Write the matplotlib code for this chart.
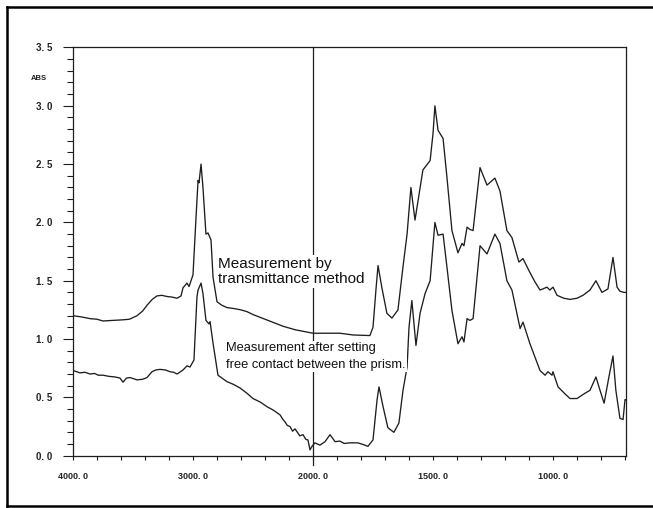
import numpy as np
import matplotlib
matplotlib.use("Agg")
import matplotlib.pyplot as plt
from matplotlib.ticker import FixedLocator, FuncFormatter
from matplotlib.lines import Line2D

# ========= DATA =========

# transmittance method (upper trace)
wn_trans = [4000, 3930, 3858, 3800, 3750, 3667, 3583, 3530, 3467, 3420, 3383, 3340,
            3300, 3260, 3217, 3175, 3133, 3100, 3083, 3050, 3033, 3000, 2975, 2958,
            2950, 2933, 2917, 2892, 2875, 2850, 2833, 2800, 2760, 2717, 2650, 2600,
            2550, 2500, 2400, 2300, 2250, 2150, 2050, 2000, 1929, 1888, 1833, 1763,
            1750, 1737, 1729, 1713, 1692, 1671, 1646, 1625, 1608, 1592, 1575, 1562,
            1542, 1512, 1500, 1492, 1479, 1458, 1442, 1421, 1396, 1379, 1371, 1358,
            1346, 1333, 1304, 1275, 1242, 1221, 1192, 1171, 1142, 1125, 1096, 1075,
            1054, 1025, 1013, 1000, 983, 955, 929, 900, 875, 846, 821, 796, 771, 750,
            733, 721, 704, 697]
abs_trans = [1.20, 1.19, 1.175, 1.17, 1.155, 1.16, 1.165, 1.17, 1.20, 1.24, 1.29, 1.34,
             1.37, 1.375, 1.365, 1.36, 1.35, 1.37, 1.44, 1.48, 1.45, 1.55, 2.04, 2.36,
             2.34, 2.50, 2.30, 1.90, 1.91, 1.85, 1.53, 1.32, 1.29, 1.27, 1.26, 1.25,
             1.235, 1.21, 1.17, 1.13, 1.11, 1.08, 1.06, 1.05, 1.05, 1.05, 1.035, 1.03,
             1.10, 1.44, 1.63, 1.44, 1.22, 1.18, 1.25, 1.62, 1.90, 2.30, 2.02, 2.19,
             2.45, 2.53, 2.76, 3.00, 2.79, 2.72, 2.39, 1.93, 1.74, 1.82, 1.80, 1.96,
             1.94, 1.93, 2.47, 2.32, 2.38, 2.27, 1.93, 1.87, 1.66, 1.69, 1.57, 1.49,
             1.42, 1.445, 1.42, 1.445, 1.375, 1.35, 1.34, 1.35, 1.375, 1.42, 1.50, 1.40,
             1.43, 1.70, 1.445, 1.41, 1.40, 1.40]

# after setting free contact with the prism (lower trace)
wn_prism = [4000, 3970, 3942, 3900, 3858, 3820, 3790, 3750, 3700, 3650, 3608, 3583,
            3555, 3525, 3467, 3420, 3383, 3342, 3310, 3275, 3230, 3192, 3160, 3133,
            3083, 3050, 3025, 2992, 2967, 2958, 2933, 2917, 2892, 2867, 2858, 2833,
            2792, 2717, 2660, 2608, 2550, 2500, 2440, 2383, 2330, 2275, 2250, 2233,
            2215, 2192, 2170, 2150, 2133, 2110, 2083, 2060, 2042, 2025, 2008, 1992,
            1971, 1950, 1929, 1908, 1888, 1870, 1846, 1813, 1790, 1771, 1750, 1733,
            1725, 1708, 1688, 1663, 1642, 1625, 1608, 1600, 1588, 1571, 1554, 1533,
            1512, 1492, 1479, 1458, 1442, 1421, 1396, 1379, 1371, 1358, 1346, 1333,
            1304, 1275, 1242, 1221, 1192, 1171, 1137, 1125, 1096, 1075, 1054, 1033,
            1021, 1004, 1000, 979, 950, 929, 900, 867, 846, 821, 804, 787, 767, 750,
            738, 721, 708, 700, 697]
abs_prism = [0.73, 0.72, 0.71, 0.715, 0.70, 0.705, 0.69, 0.69, 0.68, 0.675, 0.665, 0.63,
             0.665, 0.67, 0.65, 0.655, 0.67, 0.72, 0.735, 0.74, 0.735, 0.72, 0.715, 0.70,
             0.735, 0.77, 0.76, 0.82, 1.36, 1.42, 1.48, 1.39, 1.16, 1.13, 1.15, 0.965,
             0.69, 0.635, 0.61, 0.58, 0.535, 0.49, 0.46, 0.42, 0.39, 0.35, 0.31, 0.29,
             0.26, 0.25, 0.21, 0.23, 0.205, 0.17, 0.18, 0.14, 0.135, 0.05, 0.08, 0.11,
             0.09, 0.12, 0.18, 0.12, 0.125, 0.105, 0.11, 0.11, 0.095, 0.08, 0.135, 0.48,
             0.59, 0.42, 0.24, 0.20, 0.28, 0.56, 0.76, 1.10, 1.33, 0.945, 1.22, 1.39,
             1.50, 2.00, 1.89, 1.90, 1.62, 1.245, 0.96, 1.02, 0.975, 1.175, 1.16, 1.175,
             1.80, 1.73, 1.90, 1.82, 1.50, 1.42, 1.09, 1.145, 0.96, 0.845, 0.73, 0.69,
             0.72, 0.69, 0.72, 0.59, 0.53, 0.49, 0.49, 0.535, 0.56, 0.675, 0.56, 0.45,
             0.675, 0.855, 0.56, 0.32, 0.31, 0.48, 0.48]

y_ticks = [0.0, 0.5, 1.0, 1.5, 2.0, 2.5, 3.0, 3.5]
x_ticks = [4000, 3000, 2000, 1500, 1000]
x_minor = list(range(4000, 2000, -200)) + list(range(2000, 600, -100))

# ========= SCALE: 4000-2000 compressed by half =========
# increasing in wavenumber; the axis limits flip it so 4000 sits on the left

def fwd(w):
    w = np.asarray(w, dtype=float)
    return -np.where(w >= 2000, (4000 - w) / 2.0, 1000 + (2000 - w))

def inv(v):
    u = -np.asarray(v, dtype=float)
    return np.where(u <= 1000, 4000 - 2.0 * u, 3000 - u)

# ========= PLOT =========

fig = plt.figure(figsize=(6.53, 5.08), dpi=100)
ax = fig.add_axes([0.1118, 0.103, 0.8464, 0.8035])

ax.set_xscale("function", functions=(fwd, inv))
ax.set_xlim(4000, 697)
ax.set_ylim(0, 3.5)

lc = "#1e1e1e"
ax.plot(wn_trans, abs_trans, color=lc, lw=0.95)
ax.plot(wn_prism, abs_prism, color=lc, lw=0.95)
ax.axvline(2000, color=lc, lw=0.9, ymin=-0.022, ymax=1, clip_on=False)

ax.xaxis.set_major_locator(FixedLocator(x_ticks))
ax.xaxis.set_minor_locator(FixedLocator(x_minor))
ax.xaxis.set_major_formatter(FuncFormatter(lambda v, p: f"{int(round(v))}. 0"))
ax.yaxis.set_major_locator(FixedLocator(y_ticks))
ax.yaxis.set_minor_locator(FixedLocator(np.arange(0, 3.51, 0.1)))
ax.yaxis.set_major_formatter(FuncFormatter(lambda v, p: f"{v:.1f}".replace(".", ". ")))

for lab in ax.get_xticklabels():
    lab.set_fontfamily(["Liberation Sans"])
    lab.set_fontweight("bold")
    lab.set_fontsize(6.5)
    lab.set_color("#222222")
for lab in ax.get_yticklabels():
    lab.set_fontfamily(["Liberation Sans"])
    lab.set_fontweight("bold")
    lab.set_fontsize(7)
    lab.set_color("#222222")

ax.tick_params(axis="x", which="both", direction="out", length=3, width=0.8,
               color=lc, pad=9)
ax.tick_params(axis="y", which="major", direction="out", length=7, width=0.8,
               color=lc, pad=8)
ax.tick_params(axis="y", which="minor", direction="out", length=4, width=0.8, color=lc)
for s in ax.spines.values():
    s.set_linewidth(0.9)
    s.set_color(lc)

ax.text(-0.062, 3.23, "ABS", transform=ax.get_yaxis_transform(), ha="center",
        va="center", fontsize=5.5, fontweight="bold",
        family=["Liberation Sans"], color="#222222")

# annotations (white box hides the 2000 line behind them)
box = dict(facecolor="white", edgecolor="none", pad=1)
ax.text(0.2624, 0.4224, "Measurement by\ntransmittance method", transform=ax.transAxes,
        ha="left", va="baseline", fontsize=11, linespacing=1.15,
        family=["Liberation Sans"], color="#111111", bbox=box)
ax.text(0.2768, 0.2148, "Measurement after setting\nfree contact between the prism.",
        transform=ax.transAxes, ha="left", va="baseline", fontsize=9.3, linespacing=1.5,
        family=["Liberation Sans"], color="#111111", bbox=box)

# outer frame of the scanned figure
for xs, ys in [([0.011, 1.0], [0.986, 0.986]), ([0.011, 0.011], [0.986, 0.003]),
               ([0.011, 1.0], [0.003, 0.003])]:
    fig.add_artist(Line2D(xs, ys, color="black", lw=1.8, transform=fig.transFigure))

fig.savefig("out.png", dpi=100)
